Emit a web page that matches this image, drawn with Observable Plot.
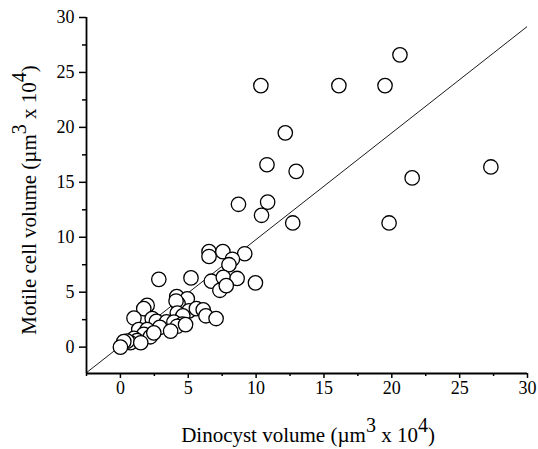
<!DOCTYPE html>
<html>
<head>
<meta charset="utf-8">
<script src="https://cdn.jsdelivr.net/npm/d3@7"></script>
<script src="https://cdn.jsdelivr.net/npm/@observablehq/plot@0.6"></script>
<style>
  html, body { margin: 0; padding: 0; background: #fff; }
  #chart svg { display: block; }
</style>
</head>
<body>
<div id="chart"></div>
<script>
// Dinocyst volume (x) vs motile cell volume (y), both in µm³ x 10⁴
const dinocyst = [
  10.35, 16.1, 19.5, 20.6, 12.15, 10.8, 12.95, 21.5, 27.3, 8.7, 10.85, 10.4, 12.7, 19.8,
  6.53, 7.55, 6.53, 9.16, 8.25, 8.0, 2.83, 5.2, 6.7, 7.58, 8.6, 9.95, 7.33, 7.8,
  4.15, 4.93, 4.25, 4.1, 1.97, 1.72, 5.05, 5.6, 6.1, 6.3, 7.05, 4.19, 4.56, 4.6,
  1.0, 2.34, 2.65, 3.4, 3.94, 4.56, 4.19, 4.8, 2.9, 3.7, 1.35, 1.97, 1.72, 2.2,
  2.46, 1.0, 1.23, 0.74, 0.5, 0.25, 0.0, 1.5
];
const motile = [
  23.8, 23.8, 23.8, 26.6, 19.5, 16.6, 16.0, 15.4, 16.4, 13.0, 13.2, 12.0, 11.3, 11.3,
  8.69, 8.69, 8.25, 8.5, 8.0, 7.5, 6.17, 6.3, 6.0, 6.35, 6.25, 5.85, 5.17, 5.6,
  4.6, 4.4, 3.95, 4.2, 3.8, 3.5, 3.3, 3.5, 3.4, 2.85, 2.6, 3.1, 2.65, 2.85,
  2.65, 2.6, 2.35, 2.3, 2.28, 2.1, 1.9, 2.05, 1.8, 1.46, 1.6, 1.6, 1.16, 0.94,
  1.3, 0.8, 0.6, 0.4, 0.55, 0.5, 0.0, 0.4
];
const xTicks = [0, 5, 10, 15, 20, 25, 30];
const yTicks = [0, 5, 10, 15, 20, 25, 30];
const xMinor = [-2.5, 2.5, 7.5, 12.5, 17.5, 22.5, 27.5];
const yMinor = [2.5, 7.5, 12.5, 17.5, 22.5, 27.5];
const xDomain = [-2.5, 30];
const yDomain = [-2.4, 30];
// fitted line y = slope * x + intercept
const slope = 0.97;
const intercept = 0.1;

const points = dinocyst.map((x, i) => ({x, y: motile[i]}));
const fit = xDomain.map(x => ({x, y: slope * x + intercept}));

const svg = Plot.plot({
  width: 538,
  height: 449,
  marginLeft: 86,
  marginRight: 11,
  marginTop: 17,
  marginBottom: 76,
  style: {fontFamily: "'Liberation Serif', 'Times New Roman', serif", fontSize: "18px", color: "#000", background: "#fff"},
  x: {domain: xDomain},
  y: {domain: yDomain},
  marks: [
    Plot.axisX(xTicks, {tickSize: 5, tickPadding: 3, label: null, strokeWidth: 1.5}),
    Plot.axisX(xMinor, {tickSize: 3, text: null, label: null, strokeWidth: 1.5}),
    Plot.axisY(yTicks, {tickSize: 7, tickPadding: 5, label: null, strokeWidth: 1.5}),
    Plot.axisY(yMinor, {tickSize: 4, text: null, label: null, strokeWidth: 1.5}),
    Plot.ruleY([yDomain[0]], {stroke: "#000", strokeWidth: 1.8}),
    Plot.ruleX([xDomain[0]], {stroke: "#000", strokeWidth: 1.8}),
    Plot.line(fit, {x: "x", y: "y", stroke: "#000", strokeWidth: 0.9, clip: true}),
    Plot.dot(points, {x: "x", y: "y", r: 7.2, fill: "#fff", stroke: "#000", strokeWidth: 1.3})
  ]
});

const s = d3.select(svg);
s.selectAll("g[aria-label$='tick label']").attr("font-size", "18px").attr("fill", "#000");

function title(sel, parts) {
  parts.forEach(p => {
    const t = sel.append("tspan").text(p.t);
    if (p.sup) t.attr("dy", "-10").attr("font-size", "20px");
    if (p.down) t.attr("dy", "10");
  });
}
const xt = s.append("text")
  .attr("x", 308).attr("y", 442)
  .attr("text-anchor", "middle")
  .attr("font-size", "21px")
  .attr("fill", "#000");
title(xt, [{t: "Dinocyst volume (µm"}, {t: "3", sup: true}, {t: " x 10", down: true}, {t: "4", sup: true}, {t: ")", down: true}]);

const yt = s.append("text")
  .attr("transform", "translate(36,200) rotate(-90)")
  .attr("text-anchor", "middle")
  .attr("font-size", "21px")
  .attr("fill", "#000");
title(yt, [{t: "Motile cell volume (µm"}, {t: "3", sup: true}, {t: " x 10", down: true}, {t: "4", sup: true}, {t: ")", down: true}]);

document.getElementById("chart").appendChild(svg);
</script>
</body>
</html>
